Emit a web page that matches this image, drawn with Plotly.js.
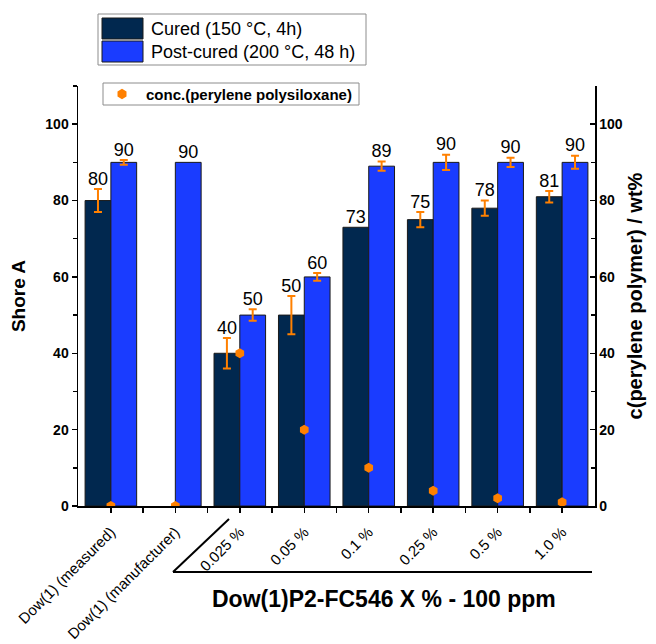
<!DOCTYPE html>
<html>
<head>
<meta charset="utf-8">
<script src="https://cdn.plot.ly/plotly-3.0.1.min.js"></script>
<style>html,body{margin:0;padding:0;background:#fff;}#chart{width:656px;height:644px;}</style>
</head>
<body>
<div id="chart"></div>
<script>
// ---- data ----
const categories = ['Dow(1) (measured)', 'Dow(1) (manufacturer)', '0.025 %', '0.05 %', '0.1 %', '0.25 %', '0.5 %', '1.0 %'];
const cured      = [80, null, 40, 50, 73, 75, 78, 81];
const curedErr   = [3, null, 4, 5, null, 2, 2, 1.5];
const postCured  = [90, 90, 50, 60, 89, 90, 90, 90];
const postErr    = [0.6, null, 1.5, 1, 1.2, 2, 1.2, 1.7];
const conc       = [0, 0, 40, 20, 10, 4, 2, 1];
const seriesNames = ['Cured (150 °C, 4h)', 'Post-cured (200 °C, 48 h)', 'conc.(perylene polysiloxane)'];
const xTitle = 'Dow(1)P2-FC546 X % - 100 ppm';
const yTitle = 'Shore A';
const y2Title = 'c(perylene polymer) / wt%';

// ---- style ----
const FONT = 'Liberation Sans, Arial, sans-serif';
const DARK = '#01284f';
const BLUE = '#1a3cff';
const ORANGE = '#ff8000';
const BW = 0.4;
const L = 78, T = 86, W = 517, H = 420;
const px = v => (v - L) / W;
const py = v => (T + H - v) / H;

const idx = categories.map((_, i) => i);
const toErr = a => a.map(v => (v === null ? NaN : v));

const errStyle = {type: 'data', visible: true, color: ORANGE, thickness: 2, width: 4};

const traces = [
  {type: 'bar', x: idx.map(i => i - BW / 2), y: cured, width: BW, name: seriesNames[0],
   marker: {color: DARK, line: {color: '#1a1a1a', width: 1}},
   error_y: Object.assign({array: toErr(curedErr)}, errStyle), showlegend: false, hoverinfo: 'y'},
  {type: 'bar', x: idx.map(i => i + BW / 2), y: postCured, width: BW, name: seriesNames[1],
   marker: {color: BLUE, line: {color: '#1a1a1a', width: 1}},
   error_y: Object.assign({array: toErr(postErr)}, errStyle), showlegend: false, hoverinfo: 'y'},
  {type: 'scatter', mode: 'text', x: idx.map(i => i - BW / 2),
   y: cured.map((v, i) => v === null ? null : v + (curedErr[i] || 0)),
   text: cured.map(v => v === null ? '' : String(v)), textposition: 'top center',
   textfont: {family: FONT, size: 18, color: '#000'}, cliponaxis: false, showlegend: false, hoverinfo: 'skip'},
  {type: 'scatter', mode: 'text', x: idx.map(i => i + BW / 2),
   y: postCured.map((v, i) => v + (postErr[i] || 0)),
   text: postCured.map(v => String(v)), textposition: 'top center',
   textfont: {family: FONT, size: 18, color: '#000'}, cliponaxis: false, showlegend: false, hoverinfo: 'skip'},
  {type: 'scatter', mode: 'markers', x: idx, y: conc, yaxis: 'y2', name: seriesNames[2],
   marker: {symbol: 'hexagon', size: 10, color: ORANGE, line: {width: 0}}, showlegend: false}
];

// custom legend (boxes, swatches, text)
const hex = (cx, cy, r) => {
  let d = '';
  for (let k = 0; k < 6; k++) {
    const a = Math.PI / 2 + k * Math.PI / 3;
    const xx = px(cx + r * Math.cos(a)), yy = py(cy - r * Math.sin(a));
    d += (k === 0 ? 'M' : 'L') + xx + ',' + yy;
  }
  return d + 'Z';
};
const rect = (x0, y0, x1, y1, fill, line) => ({type: 'rect', xref: 'paper', yref: 'paper',
  x0: px(x0), x1: px(x1), y0: py(y1), y1: py(y0), fillcolor: fill, line: line, layer: 'above'});

const shapes = [
  rect(98, 14, 366, 65, '#fff', {color: '#8c8c8c', width: 1}),
  rect(102, 18, 143, 39, DARK, {color: '#1a1a1a', width: 1}),
  rect(102, 41, 143, 62, BLUE, {color: '#1a1a1a', width: 1}),
  rect(103, 83, 359, 105, '#fff', {color: '#8c8c8c', width: 1}),
  {type: 'path', xref: 'paper', yref: 'paper', path: hex(122, 94, 5.2), fillcolor: ORANGE, line: {width: 0}, layer: 'above'},
  // bracket below the concentration labels
  {type: 'line', xref: 'paper', yref: 'paper', x0: px(173), y0: py(572), x1: px(592), y1: py(572), line: {color: '#000', width: 2}},
  {type: 'line', xref: 'paper', yref: 'paper', x0: px(173), y0: py(572), x1: px(229), y1: py(519), line: {color: '#000', width: 2}}
];

const annotations = [
  {xref: 'paper', yref: 'paper', x: px(149), y: py(29), xanchor: 'left', yanchor: 'middle', showarrow: false,
   text: seriesNames[0], font: {family: FONT, size: 18, color: '#000'}},
  {xref: 'paper', yref: 'paper', x: px(149), y: py(52), xanchor: 'left', yanchor: 'middle', showarrow: false,
   text: seriesNames[1], font: {family: FONT, size: 18, color: '#000'}},
  {xref: 'paper', yref: 'paper', x: px(144), y: py(94), xanchor: 'left', yanchor: 'middle', showarrow: false,
   text: seriesNames[2], font: {family: FONT, size: 15, color: '#000', weight: 700}},
  {xref: 'paper', yref: 'paper', x: px(384), y: py(599), xanchor: 'center', yanchor: 'middle', showarrow: false,
   text: xTitle, font: {family: FONT, size: 23, color: '#000', weight: 700}}
];

const axisCommon = {showgrid: false, zeroline: false, showline: true, linecolor: '#000', linewidth: 1.5};

const layout = {
  width: 656, height: 644,
  margin: {l: L, r: 656 - L - W, t: T, b: 644 - T - H, pad: 0},
  paper_bgcolor: '#fff', plot_bgcolor: '#fff',
  font: {family: FONT, color: '#000'},
  barmode: 'overlay',
  showlegend: false,
  xaxis: Object.assign({}, axisCommon, {
    type: 'linear', range: [-0.51, 7.51], tickmode: 'array', tickvals: idx, ticktext: categories,
    tickangle: -45, ticks: 'outside', ticklen: 5, tickwidth: 1.5, tickcolor: '#000',
    ticklabelstandoff: 5,
    tickfont: {family: FONT, size: 15, color: '#000'},
    minor: {tickmode: 'array', tickvals: idx.slice(0, -1).map(i => i + 0.5), ticks: 'outside', ticklen: 5, tickwidth: 1.5, tickcolor: '#000'}
  }),
  yaxis: Object.assign({}, axisCommon, {
    range: [0, 110], tickmode: 'linear', tick0: 0, dtick: 20, ticks: 'outside', ticklen: 5, tickwidth: 1.5, tickcolor: '#000',
    tickfont: {family: FONT, size: 14, color: '#000', weight: 700},
    minor: {tick0: 10, dtick: 20, ticks: 'outside', ticklen: 4, tickwidth: 1.5, tickcolor: '#000'},
    title: {text: yTitle, font: {family: FONT, size: 19, color: '#000', weight: 700}, standoff: 14}
  }),
  yaxis2: Object.assign({}, axisCommon, {
    overlaying: 'y', side: 'right', anchor: 'x',
    range: [0, 110], tickmode: 'linear', tick0: 0, dtick: 20, ticks: 'inside', ticklen: 5, tickwidth: 1.5, tickcolor: '#000',
    tickfont: {family: FONT, size: 14, color: '#000', weight: 700},
    minor: {tick0: 10, dtick: 20, ticks: 'inside', ticklen: 4, tickwidth: 1.5, tickcolor: '#000'},
    title: {text: y2Title, font: {family: FONT, size: 20, color: '#000', weight: 700}, standoff: 6}
  }),
  shapes: shapes,
  annotations: annotations
};

Plotly.newPlot('chart', traces, layout, {displayModeBar: false, staticPlot: true});
</script>
</body>
</html>
